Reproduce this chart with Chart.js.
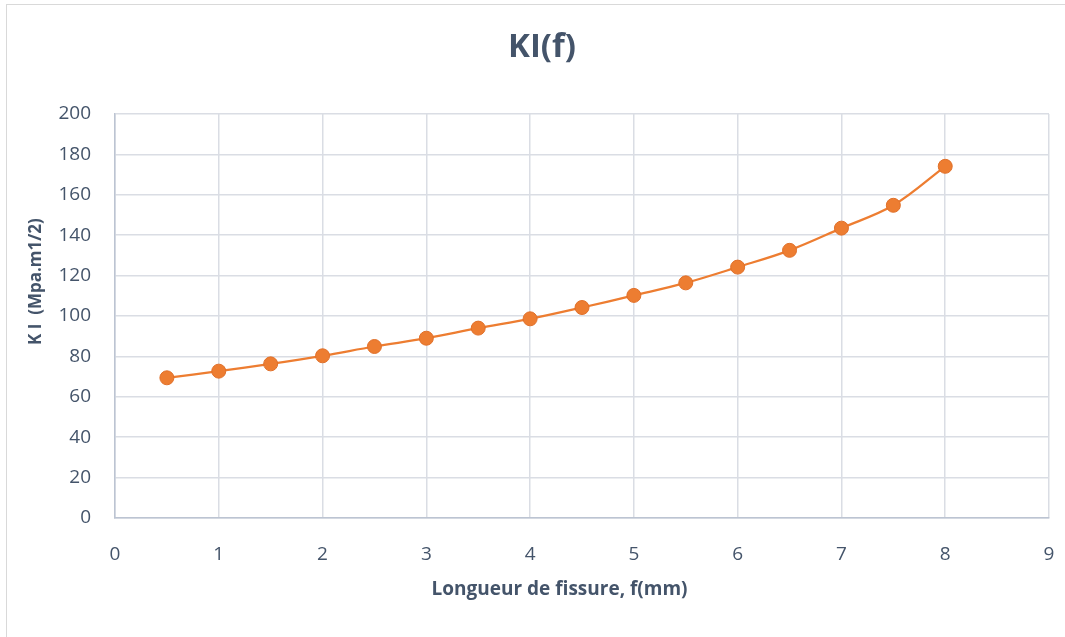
<!DOCTYPE html>
<html lang="fr">
<head>
<meta charset="utf-8">
<title>KI(f)</title>
<script src="https://cdn.jsdelivr.net/npm/chart.js@4.4.1/dist/chart.umd.min.js"></script>
<style>
  html, body {
    margin: 0;
    padding: 0;
    background: #ffffff;
    overflow: hidden;
  }
  #frame {
    position: absolute;
    left: 6px;
    top: 4px;
    width: 1100px;
    height: 700px;
    border: 1px solid #d9d9d9;
  }
  #wrap {
    position: absolute;
    left: 0;
    top: 0;
    width: 1065px;
    height: 637px;
  }
</style>
</head>
<body>
<div id="frame"></div>
<div id="wrap"><canvas id="kiChart"></canvas></div>

<script>
//-----------------------------------------------------
// Données : longueur de fissure (mm) et KI (MPa.m1/2)
//-----------------------------------------------------
const fissure = [0.5, 1, 1.5, 2, 2.5, 3, 3.5, 4, 4.5, 5, 5.5, 6, 6.5, 7, 7.5, 8];
const ki = [69.4, 72.7, 76.3, 80.3, 84.9, 89.0, 94.0, 98.6, 104.2, 110.2, 116.4, 124.2, 132.5, 143.5, 154.8, 174.1];

const xTicks = [0, 1, 2, 3, 4, 5, 6, 7, 8, 9];
const yTicks = [0, 20, 40, 60, 80, 100, 120, 140, 160, 180, 200];

const chartTitle = "KI(f)";
const xTitle = "Longueur de fissure, f(mm)";
const yTitle = "K I  (Mpa.m1/2)";

const FONT = "'Open Sans', 'Noto Sans', sans-serif";
const TEXT = "#44546a";
const ORANGE = "#ed7d31";

//-----------------------------------------------------
// Titres (graphique + axes) dessinés à la main
//-----------------------------------------------------
const titlesPlugin = {
  id: "titles",
  afterDraw(chart) {
    const ctx = chart.ctx;
    const area = chart.chartArea;
    ctx.save();
    ctx.fillStyle = TEXT;
    ctx.textAlign = "center";
    ctx.textBaseline = "middle";

    ctx.font = `bold 33px ${FONT}`;
    ctx.fillText(chartTitle, 542, 48);

    ctx.font = `bold 19px ${FONT}`;
    ctx.fillText(xTitle, area.left + (area.right - area.left) * 0.476, 590);

    ctx.font = `bold 17px ${FONT}`;
    ctx.translate(36, area.top + (area.bottom - area.top) * 0.415);
    ctx.rotate(-Math.PI / 2);
    ctx.fillText(yTitle, 0, 0);
    ctx.restore();
  },
};

const ctxKi = document.getElementById("kiChart");

new Chart(ctxKi, {
  type: "line",
  data: {
    datasets: [{
      label: "KI",
      data: fissure.map((f, i) => ({ x: f, y: ki[i] })),
      borderColor: ORANGE,
      backgroundColor: ORANGE,
      borderWidth: 2.25,
      pointRadius: 7,
      pointHoverRadius: 7,
      pointBackgroundColor: ORANGE,
      pointBorderColor: "#e0702a",
      pointBorderWidth: 1,
      tension: 0.35,
      fill: false,
    }],
  },
  options: {
    responsive: true,
    maintainAspectRatio: false,
    animation: false,
    layout: {
      padding: { top: 114, right: 16, bottom: 0, left: 0 },
    },
    plugins: {
      legend: { display: false },
      title: { display: false },
      tooltip: { enabled: false },
    },
    scales: {
      x: {
        type: "linear",
        min: xTicks[0],
        max: xTicks[xTicks.length - 1],
        afterBuildTicks: (scale) => {
          scale.ticks = xTicks.map((v) => ({ value: v }));
        },
        afterFit: (scale) => {
          // hauteur fixe et pas de marge latérale liée au padding des étiquettes
          scale.height = 119;
          scale.paddingLeft = 0;
          scale.paddingRight = 0;
        },
        grid: {
          color: "#dadde4",
          lineWidth: 1.5,
          drawTicks: false,
        },
        border: { color: "#bcc4d2", width: 1.5 },
        ticks: {
          padding: 25,
          color: TEXT,
          font: { family: FONT, size: 19 },
          maxRotation: 0,
        },
      },
      y: {
        min: yTicks[0],
        max: yTicks[yTicks.length - 1],
        afterBuildTicks: (scale) => {
          scale.ticks = yTicks.map((v) => ({ value: v }));
        },
        afterFit: (scale) => {
          scale.width = 115;
        },
        grid: {
          color: "#dadde4",
          lineWidth: 1.5,
          drawTicks: false,
        },
        border: { color: "#bcc4d2", width: 1.5 },
        ticks: {
          padding: 24,
          color: TEXT,
          font: { family: FONT, size: 19 },
        },
      },
    },
  },
  plugins: [titlesPlugin],
});
</script>
</body>
</html>
